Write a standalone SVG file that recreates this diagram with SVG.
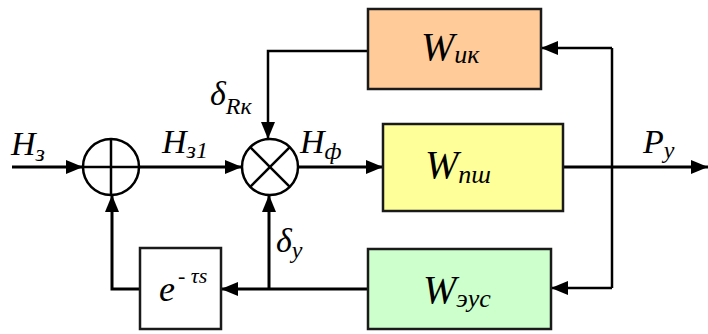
<svg xmlns="http://www.w3.org/2000/svg" width="708" height="334" viewBox="0 0 708 334" font-family="Liberation Serif">
<defs>
<marker id="ah" markerUnits="userSpaceOnUse" markerWidth="18" markerHeight="14" refX="17" refY="7" orient="auto">
<path d="M0,0 L17,7 L0,14 z" fill="#000" stroke="none"/>
</marker>
</defs>
<rect width="708" height="334" fill="#fff"/>
<g id="connectors" fill="none" stroke="#000" stroke-width="3">
<line x1="12" y1="167" x2="83" y2="167" marker-end="url(#ah)"/>
<line x1="139" y1="167" x2="242" y2="167" marker-end="url(#ah)"/>
<line x1="298" y1="167" x2="383" y2="167" marker-end="url(#ah)"/>
<line x1="563" y1="167" x2="708" y2="167" marker-end="url(#ah)"/>
<line stroke-width="2.5" x1="612" y1="48" x2="612" y2="288"/>
<line stroke-width="2.5" x1="612" y1="48" x2="541" y2="48" marker-end="url(#ah)"/>
<line stroke-width="2.5" x1="612" y1="288" x2="551" y2="288" marker-end="url(#ah)"/>
<polyline stroke-width="2.5" points="368,51 268,51 268,139" marker-end="url(#ah)"/>
<line x1="368" y1="289" x2="221" y2="289" marker-end="url(#ah)"/>
<line x1="269" y1="289" x2="269" y2="195" marker-end="url(#ah)"/>
<polyline points="140,289 112,289 112,195" marker-end="url(#ah)"/>
</g>
<g id="sum1" stroke="#000" stroke-width="2.5">
<circle cx="111" cy="167" r="28" fill="#fff"/>
<line x1="83" y1="167" x2="139" y2="167"/>
<line x1="111" y1="139" x2="111" y2="195"/>
</g>
<g id="mult" stroke="#000" stroke-width="2.5">
<circle cx="270" cy="167" r="28" fill="#fff"/>
<line x1="250.2" y1="147.2" x2="289.8" y2="186.8"/>
<line x1="289.8" y1="147.2" x2="250.2" y2="186.8"/>
</g>
<g id="Wik">
<rect x="368" y="9" width="173" height="80" fill="#FFCC99" stroke="#1a1a1a" stroke-width="2.5"/>
<text font-family="Liberation Serif" font-style="italic" font-size="40" x="421" y="60">W<tspan font-size="26" dy="3">ик</tspan></text>
</g>
<g id="Wpsh">
<rect x="383" y="124" width="180" height="87" fill="#FFFF99" stroke="#1a1a1a" stroke-width="2.5"/>
<text font-family="Liberation Serif" font-style="italic" font-size="40" x="425" y="178">W<tspan font-size="26" dy="5">пш</tspan></text>
</g>
<g id="Weus">
<rect x="368" y="249" width="183" height="80" fill="#CCFFCC" stroke="#1a1a1a" stroke-width="2.5"/>
<text font-family="Liberation Serif" font-style="italic" font-size="40" x="423" y="303">W<tspan font-size="26" dy="4">эус</tspan></text>
</g>
<g id="delay">
<rect x="140" y="248" width="81" height="81" fill="#fff" stroke="#1a1a1a" stroke-width="2.5"/>
<text font-family="Liberation Serif" font-style="italic" font-size="36" x="159" y="301">e<tspan font-size="22" dy="-18" dx="3">- τs</tspan></text>
</g>
<g id="labels">
<text font-family="Liberation Serif" font-style="italic" font-size="34" x="11" y="155">H<tspan font-size="24" dy="6">з</tspan></text>
<text font-family="Liberation Serif" font-style="italic" font-size="34" x="162" y="153">H<tspan font-size="24" dy="5">з1</tspan></text>
<text font-family="Liberation Serif" font-style="italic" font-size="34" x="300" y="153">H<tspan font-size="24" dy="6">ф</tspan></text>
<text font-family="Liberation Serif" font-style="italic" font-size="34" x="643" y="153">P<tspan font-size="24" dy="5">y</tspan></text>
<text font-family="Liberation Serif" font-style="italic" font-size="34" x="210" y="105">δ<tspan font-size="24" dy="9">Rк</tspan></text>
<text font-family="Liberation Serif" font-style="italic" font-size="34" x="276" y="252">δ<tspan font-size="24" dy="6">y</tspan></text>
</g>
</svg>
